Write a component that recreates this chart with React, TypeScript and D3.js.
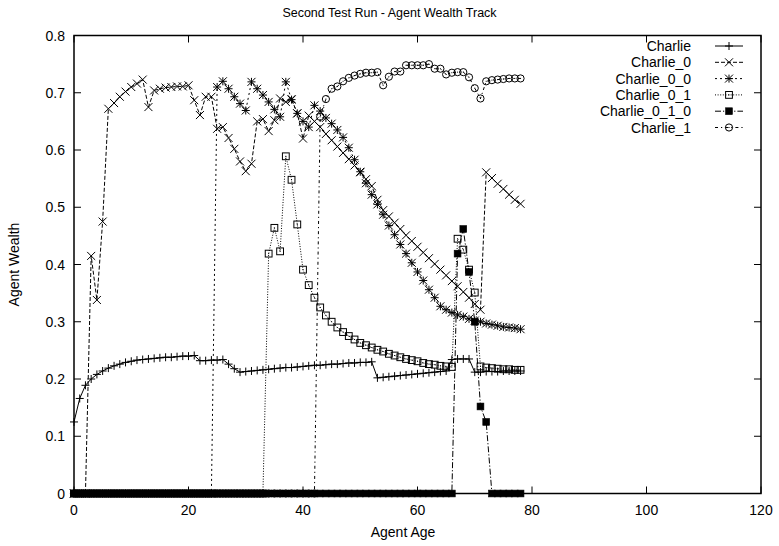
import React from "react";
import * as d3 from "d3";

// Agent ages 0..78
const ages: number[] = d3.range(0, 79);

const charlie: number[] = [
  0.125, 0.166, 0.189, 0.2, 0.208, 0.214, 0.219, 0.223, 0.226, 0.229,
  0.231, 0.233, 0.234, 0.235, 0.236, 0.237, 0.238, 0.238, 0.239, 0.24,
  0.24, 0.241, 0.232, 0.232, 0.233, 0.233, 0.234, 0.226, 0.218, 0.212,
  0.213, 0.214, 0.215, 0.216, 0.217, 0.218, 0.219, 0.22, 0.22, 0.221,
  0.222, 0.223, 0.224, 0.224, 0.225, 0.226, 0.226, 0.227, 0.228, 0.228,
  0.229, 0.229, 0.23, 0.202, 0.203, 0.204, 0.205, 0.206, 0.207, 0.208,
  0.209, 0.21, 0.211, 0.212, 0.213, 0.214, 0.234, 0.235, 0.235, 0.235,
  0.212, 0.212, 0.213, 0.213, 0.213, 0.214, 0.214, 0.214, 0.214,
];

const charlie0: number[] = [
  0, 0, 0, 0.415, 0.338, 0.475, 0.672, 0.682, 0.693, 0.702,
  0.71, 0.716, 0.723, 0.675, 0.704, 0.707, 0.709, 0.71, 0.711, 0.711,
  0.713, 0.687, 0.661, 0.693, 0.693, 0.637, 0.64, 0.621, 0.602, 0.58,
  0.563, 0.576, 0.65, 0.654, 0.633, 0.652, 0.69, 0.684, 0.689, 0.664,
  0.62, 0.66, 0.65, 0.64, 0.628, 0.617, 0.606, 0.595, 0.584, 0.573,
  0.561, 0.549, 0.537, 0.513, 0.495, 0.484, 0.473, 0.462, 0.451, 0.441,
  0.431, 0.421, 0.411, 0.401, 0.391, 0.381, 0.371, 0.362, 0.352, 0.342,
  0.331, 0.321, 0.561, 0.551, 0.541, 0.532, 0.522, 0.513, 0.506,
];

const charlie00: number[] = [
  0, 0, 0, 0, 0, 0, 0, 0, 0, 0,
  0, 0, 0, 0, 0, 0, 0, 0, 0, 0,
  0, 0, 0, 0, 0, 0.71, 0.72, 0.707, 0.693, 0.681,
  0.669, 0.719, 0.707, 0.696, 0.684, 0.671, 0.658, 0.719, 0.688, 0.664,
  0.65, 0.64, 0.678, 0.668, 0.656, 0.646, 0.635, 0.622, 0.604, 0.583,
  0.562, 0.542, 0.522, 0.505, 0.487, 0.468, 0.452, 0.435, 0.419, 0.403,
  0.387, 0.372, 0.356, 0.342, 0.327, 0.321, 0.316, 0.312, 0.309, 0.305,
  0.302, 0.3, 0.297, 0.295, 0.293, 0.291, 0.29, 0.289, 0.287,
];

const charlie01: number[] = [
  0, 0, 0, 0, 0, 0, 0, 0, 0, 0,
  0, 0, 0, 0, 0, 0, 0, 0, 0, 0,
  0, 0, 0, 0, 0, 0, 0, 0, 0, 0,
  0, 0, 0, 0, 0.419, 0.464, 0.423, 0.589, 0.548, 0.47,
  0.391, 0.364, 0.342, 0.325, 0.311, 0.3, 0.29, 0.282, 0.275, 0.269,
  0.263, 0.259, 0.255, 0.251, 0.248, 0.244, 0.241, 0.238, 0.235, 0.233,
  0.231, 0.228, 0.226, 0.225, 0.223, 0.222, 0.221, 0.445, 0.426, 0.391,
  0.351, 0.222, 0.22, 0.219, 0.218, 0.217, 0.217, 0.216, 0.216,
];

const charlie010: number[] = [
  0, 0, 0, 0, 0, 0, 0, 0, 0, 0,
  0, 0, 0, 0, 0, 0, 0, 0, 0, 0,
  0, 0, 0, 0, 0, 0, 0, 0, 0, 0,
  0, 0, 0, 0, 0, 0, 0, 0, 0, 0,
  0, 0, 0, 0, 0, 0, 0, 0, 0, 0,
  0, 0, 0, 0, 0, 0, 0, 0, 0, 0,
  0, 0, 0, 0, 0, 0, 0, 0.419, 0.462, 0.387,
  0.3, 0.152, 0.125, 0, 0, 0, 0, 0, 0,
];

const charlie1: number[] = [
  0, 0, 0, 0, 0, 0, 0, 0, 0, 0,
  0, 0, 0, 0, 0, 0, 0, 0, 0, 0,
  0, 0, 0, 0, 0, 0, 0, 0, 0, 0,
  0, 0, 0, 0, 0, 0, 0, 0, 0, 0,
  0, 0, 0, 0.658, 0.689, 0.707, 0.711, 0.72, 0.726, 0.73,
  0.733, 0.735, 0.735, 0.736, 0.713, 0.728, 0.737, 0.737, 0.748, 0.748,
  0.748, 0.748, 0.75, 0.742, 0.742, 0.732, 0.735, 0.736, 0.736, 0.727,
  0.708, 0.69, 0.72, 0.722, 0.723, 0.724, 0.725, 0.725, 0.725,
];

const xTicks: number[] = [0, 20, 40, 60, 80, 100, 120];
const yTicks: number[] = [0, 0.1, 0.2, 0.3, 0.4, 0.5, 0.6, 0.7, 0.8];

type Marker = "plus" | "cross" | "star" | "box" | "boxFilled" | "circle";

const seriesNames: string[] = [
  "Charlie",
  "Charlie_0",
  "Charlie_0_0",
  "Charlie_0_1",
  "Charlie_0_1_0",
  "Charlie_1",
];
const seriesValues: number[][] = [charlie, charlie0, charlie00, charlie01, charlie010, charlie1];
const seriesMarkers: Marker[] = ["plus", "cross", "star", "box", "boxFilled", "circle"];
const seriesDashes: string[] = ["none", "4,2", "2,3", "1,1.6", "6,2,1.2,2", "3,3,1.2,3"];

const W = 779;
const H = 546;
const M = { left: 74, right: 761, top: 35.5, bottom: 493.5 };
const FONT = "'Liberation Sans', Arial, Helvetica, sans-serif";

function MarkerShape({ kind, x, y }: { kind: Marker; x: number; y: number }) {
  const s = 4;
  const st = { stroke: "#000", strokeWidth: 1, fill: "none" };
  switch (kind) {
    case "plus":
      return <path d={`M${x - s},${y}H${x + s}M${x},${y - s}V${y + s}`} {...st} />;
    case "cross":
      return <path d={`M${x - s},${y - s}L${x + s},${y + s}M${x - s},${y + s}L${x + s},${y - s}`} {...st} />;
    case "star":
      return (
        <path
          d={`M${x - s},${y}H${x + s}M${x},${y - s}V${y + s}M${x - s},${y - s}L${x + s},${y + s}M${x - s},${y + s}L${x + s},${y - s}`}
          {...st}
        />
      );
    case "box":
      return (
        <g>
          <rect x={x - 3.4} y={y - 3.4} width={6.8} height={6.8} fill="none" stroke="#000" strokeWidth={1} />
          <rect x={x - 0.5} y={y - 0.5} width={1} height={1} fill="#000" />
        </g>
      );
    case "boxFilled":
      return <rect x={x - 3.4} y={y - 3.4} width={6.8} height={6.8} fill="#000" stroke="#000" strokeWidth={0.6} />;
    case "circle":
      return (
        <g>
          <circle cx={x} cy={y} r={3.6} fill="none" stroke="#000" strokeWidth={1} />
          <rect x={x - 0.5} y={y - 0.5} width={1} height={1} fill="#000" />
        </g>
      );
  }
}

export default function App() {
  const x = d3.scaleLinear().domain([0, 120]).range([M.left, M.right]);
  const y = d3.scaleLinear().domain([0, 0.8]).range([M.bottom, M.top]);
  const line = d3
    .line<number>()
    .x((_, i) => x(ages[i]))
    .y((v) => y(v));
  const tickLen = 7;

  return (
    <svg width={W} height={H} style={{ position: "absolute", left: 0, top: 0, background: "#fff" }} fontFamily={FONT}>
      <rect width={W} height={H} fill="#fff" />
      {/* title */}
      <text x={W / 2} y={17} textAnchor="middle" fontSize={12.5}>
        Second Test Run - Agent Wealth Track
      </text>

      {/* ticks on all four sides, pointing inward */}
      {yTicks.map((t) => (
        <g key={"y" + t}>
          <line x1={M.left} x2={M.left + tickLen} y1={y(t)} y2={y(t)} stroke="#000" />
          <line x1={M.right} x2={M.right - tickLen} y1={y(t)} y2={y(t)} stroke="#000" />
          <text x={M.left - 9} y={y(t) + 5} textAnchor="end" fontSize={14}>
            {t === 0 ? "0" : d3.format(".1f")(t)}
          </text>
        </g>
      ))}
      {xTicks.map((t) => (
        <g key={"x" + t}>
          <line x1={x(t)} x2={x(t)} y1={M.bottom} y2={M.bottom - tickLen} stroke="#000" />
          <line x1={x(t)} x2={x(t)} y1={M.top} y2={M.top + tickLen} stroke="#000" />
          <text x={x(t)} y={M.bottom + 21} textAnchor="middle" fontSize={14}>
            {t}
          </text>
        </g>
      ))}

      {/* axis labels */}
      <text x={403} y={537} textAnchor="middle" fontSize={14}>
        Agent Age
      </text>
      <text
        transform={`translate(19,${(M.top + M.bottom) / 2}) rotate(-90)`}
        textAnchor="middle"
        fontSize={14}
      >
        Agent Wealth
      </text>

      {/* series */}
      {seriesValues.map((vals, si) => (
        <g key={seriesNames[si]}>
          <path
            d={line(vals) ?? ""}
            fill="none"
            stroke="#000"
            strokeWidth={1}
            strokeDasharray={seriesDashes[si]}
          />
          {vals.map((v, i) => (
            <MarkerShape key={i} kind={seriesMarkers[si]} x={x(ages[i])} y={y(v)} />
          ))}
        </g>
      ))}

      {/* legend */}
      {seriesNames.map((name, i) => {
        const ly = 46 + i * 16.3;
        return (
          <g key={"lg" + name}>
            <text x={691} y={ly + 5} textAnchor="end" fontSize={14}>
              {name}
            </text>
            <line
              x1={715}
              x2={743}
              y1={ly}
              y2={ly}
              stroke="#000"
              strokeWidth={1}
              strokeDasharray={seriesDashes[i]}
            />
            <MarkerShape kind={seriesMarkers[i]} x={729} y={ly} />
          </g>
        );
      })}

      {/* frame */}
      <rect
        x={M.left}
        y={M.top}
        width={M.right - M.left}
        height={M.bottom - M.top}
        fill="none"
        stroke="#000"
        strokeWidth={1.5}
      />
    </svg>
  );
}
